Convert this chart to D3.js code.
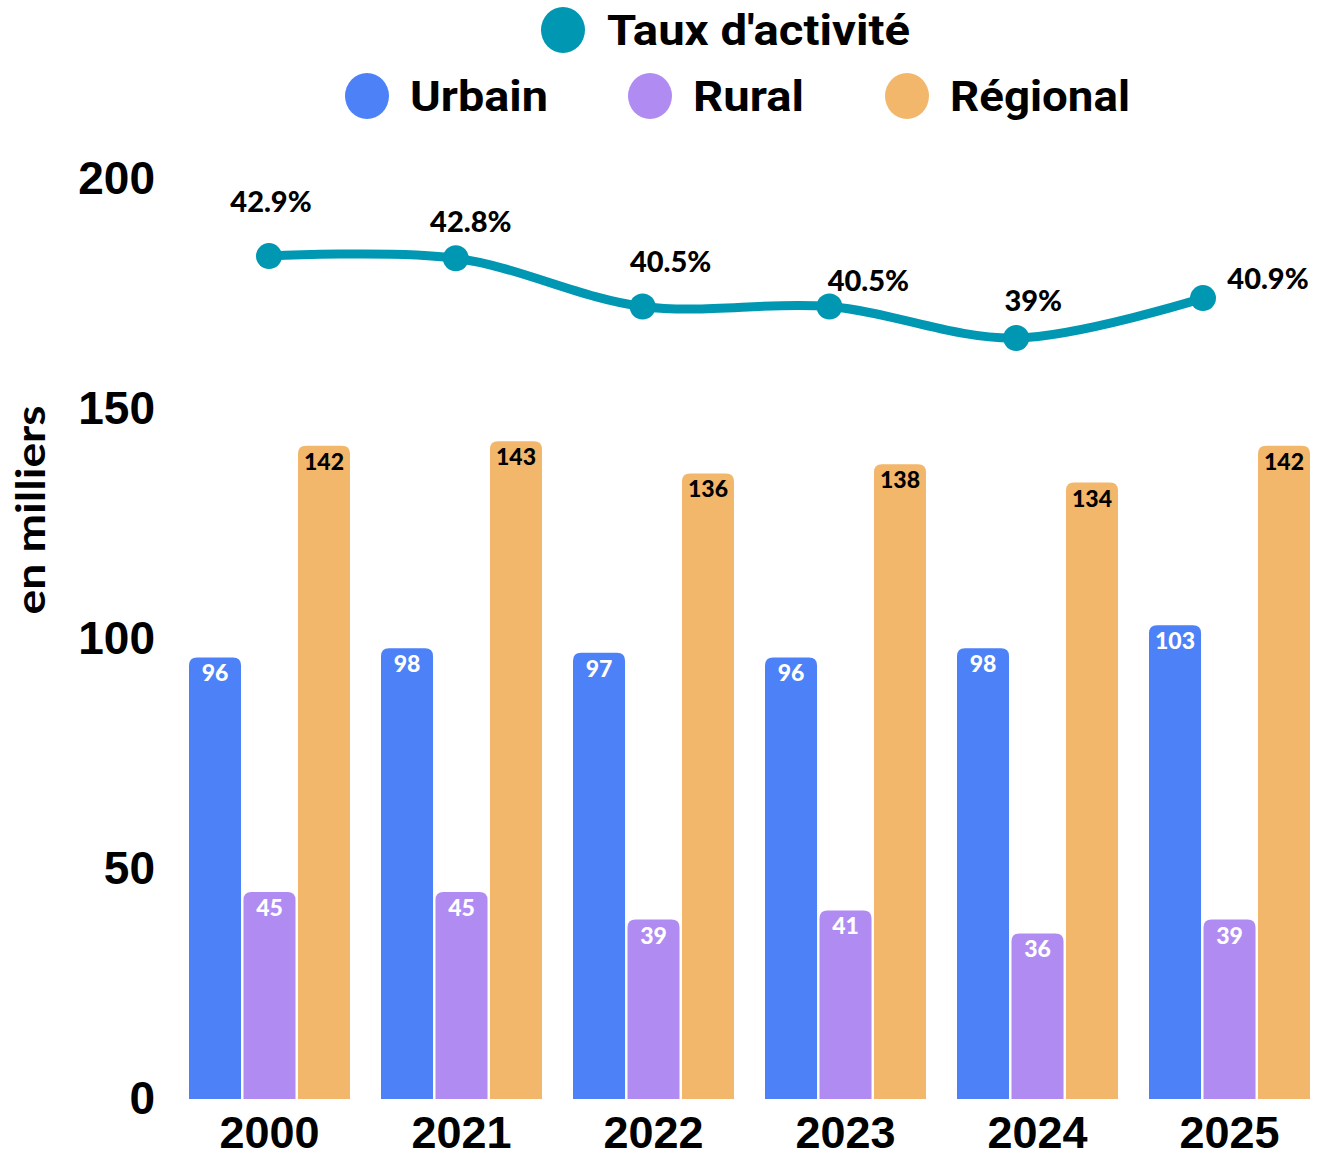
<!DOCTYPE html>
<html>
<head>
<meta charset="utf-8">
<script src="https://cdn.jsdelivr.net/npm/d3@7"></script>
<style>
  body { margin: 0; background: #fff; }
  svg { display: block; }
</style>
</head>
<body>
<div id="viz"></div>
<script>
// données
const years = ['2000', '2021', '2022', '2023', '2024', '2025'];
const series = ['Urbain', 'Rural', 'Régional'];
const urbain = [96, 98, 97, 96, 98, 103];
const rural = [45, 45, 39, 41, 36, 39];
const regional = [142, 143, 136, 138, 134, 142];
const tauxActivite = [42.9, 42.8, 40.5, 40.5, 39, 40.9];
const yTicks = [0, 50, 100, 150, 200];

const colors = {Urbain: '#4d81f7', Rural: '#b08cf2', 'Régional': '#f2b76b'};
const teal = '#0097b2';
const labelColor = {Urbain: '#fff', Rural: '#fff', 'Régional': '#000'};

// décalages des étiquettes de la courbe (dx, dy)
const lineLabelOffsets = [[2, -54], [15, -36], [28, -45], [39, -26], [17, -37], [65, -19]];

const W = 1328, H = 1158;
const svg = d3.select('#viz').append('svg')
  .attr('width', W).attr('height', H);

const y = d3.scaleLinear().domain([0, 200]).range([1099, 179]);
const x0 = d3.scaleBand().domain(years).range([189, 1310]).paddingInner(0.1615).paddingOuter(0);
const x1 = d3.scaleBand().domain(series).range([0, x0.bandwidth()]).paddingInner(0.045);

const values = {Urbain: urbain, Rural: rural, 'Régional': regional};

// axe Y
const yAxis = svg.append('g')
  .attr('transform', 'translate(165,0)')
  .call(d3.axisLeft(y).tickValues(yTicks).tickSize(0).tickPadding(10));
yAxis.select('.domain').remove();
yAxis.selectAll('text')
  .attr('font-family', '"Liberation Sans", Arial, sans-serif')
  .attr('font-weight', 'bold')
  .attr('font-size', 46)
  .attr('fill', '#000');

svg.append('text')
  .attr('transform', 'translate(45,510) rotate(-90)')
  .attr('text-anchor', 'middle')
  .attr('font-family', 'Lato, sans-serif')
  .attr('font-weight', 'bold')
  .attr('font-size', 40)
  .attr('textLength', 209)
  .attr('lengthAdjust', 'spacingAndGlyphs')
  .attr('fill', '#000')
  .text('en milliers');

// axe X
const xAxis = svg.append('g')
  .attr('transform', 'translate(0,1099)')
  .call(d3.axisBottom(x0).tickSize(0).tickPadding(17));
xAxis.select('.domain').remove();
xAxis.selectAll('text')
  .attr('font-family', '"Liberation Sans", Arial, sans-serif')
  .attr('font-weight', 'bold')
  .attr('font-size', 45)
  .attr('fill', '#000');

// barres à coins arrondis en haut
function topRounded(x, yTop, w, h, r) {
  r = Math.min(r, h, w / 2);
  return `M${x},${yTop + h}V${yTop + r}Q${x},${yTop} ${x + r},${yTop}` +
    `H${x + w - r}Q${x + w},${yTop} ${x + w},${yTop + r}V${yTop + h}Z`;
}

const groups = svg.append('g').selectAll('g')
  .data(years)
  .join('g')
  .attr('transform', d => `translate(${x0(d)},0)`);

series.forEach(s => {
  groups.append('path')
    .attr('d', (d, i) => {
      const v = values[s][i];
      return topRounded(x1(s), y(v), x1.bandwidth(), y(0) - y(v), 8);
    })
    .attr('fill', colors[s]);

  groups.append('text')
    .attr('x', x1(s) + x1.bandwidth() / 2)
    .attr('y', (d, i) => y(values[s][i]) + 16)
    .attr('dy', '0.35em')
    .attr('text-anchor', 'middle')
    .attr('font-family', 'Lato, sans-serif')
    .attr('font-weight', 900)
    .attr('font-size', 23)
    .attr('fill', labelColor[s])
    .text((d, i) => values[s][i]);
});

// courbe du taux d'activité
const xLine = d3.scalePoint().domain(years).range([269, 1203]);
const yLine = d3.scaleLinear().domain([30, 45]).range([527, 212]);

const line = d3.line()
  .x((d, i) => xLine(years[i]))
  .y(d => yLine(d))
  .curve(d3.curveCatmullRom.alpha(0.5));

svg.append('path')
  .datum(tauxActivite)
  .attr('d', line)
  .attr('fill', 'none')
  .attr('stroke', teal)
  .attr('stroke-width', 9)
  .attr('stroke-linecap', 'round');

svg.append('g').selectAll('circle')
  .data(tauxActivite)
  .join('circle')
  .attr('cx', (d, i) => xLine(years[i]))
  .attr('cy', d => yLine(d))
  .attr('r', 13)
  .attr('fill', teal);

svg.append('g').selectAll('text')
  .data(tauxActivite)
  .join('text')
  .attr('x', (d, i) => xLine(years[i]) + lineLabelOffsets[i][0])
  .attr('y', (d, i) => yLine(d) + lineLabelOffsets[i][1])
  .attr('dy', '0.35em')
  .attr('text-anchor', 'middle')
  .attr('font-family', 'Lato, sans-serif')
  .attr('font-weight', 900)
  .attr('font-size', 29)
  .attr('fill', '#000')
  .text(d => d + '%');

// légende
const legendFont = 'Roboto, sans-serif';
const legendItems = [
  {label: "Taux d'activité", color: teal, cx: 563, cy: 30, tx: 607, len: 303},
  {label: 'Urbain', color: colors.Urbain, cx: 367, cy: 96, tx: 410, len: 138},
  {label: 'Rural', color: colors.Rural, cx: 650, cy: 96, tx: 693, len: 111},
  {label: 'Régional', color: colors['Régional'], cx: 907, cy: 96, tx: 950, len: 180}
];
const legend = svg.append('g');
legendItems.forEach(it => {
  legend.append('ellipse')
    .attr('cx', it.cx).attr('cy', it.cy)
    .attr('rx', 22).attr('ry', 23)
    .attr('fill', it.color);
  legend.append('text')
    .attr('x', it.tx).attr('y', it.cy)
    .attr('dy', '0.36em')
    .attr('font-family', legendFont)
    .attr('font-weight', 'bold')
    .attr('font-size', 42)
    .attr('textLength', it.len)
    .attr('lengthAdjust', 'spacingAndGlyphs')
    .attr('fill', '#000')
    .text(it.label);
});
</script>
</body>
</html>
